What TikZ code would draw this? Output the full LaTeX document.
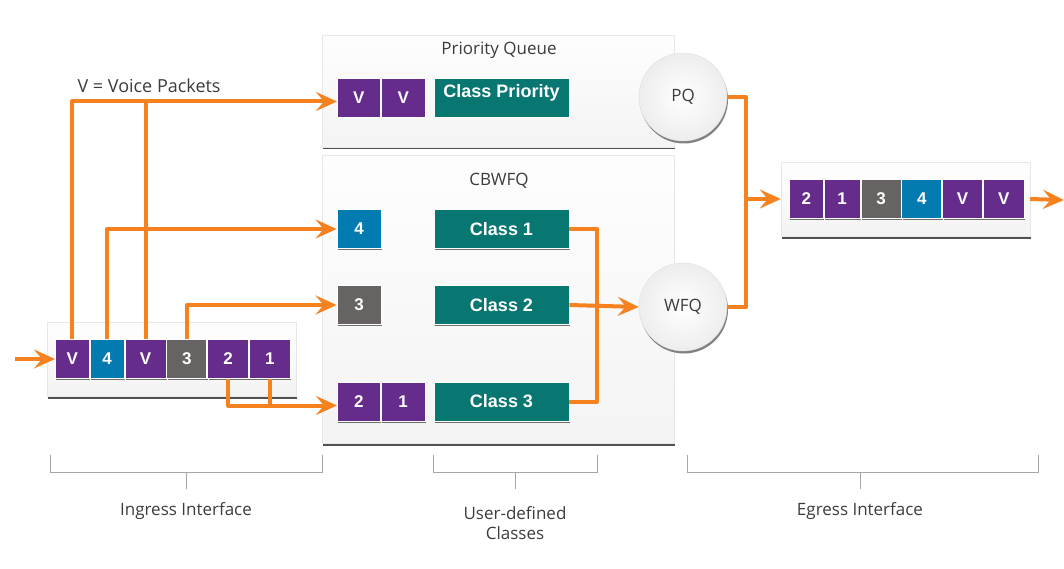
\documentclass[tikz,border=0pt]{standalone}
\usepackage{fontspec}
\setmainfont{Open Sans}
\newfontfamily\boxfont{Liberation Sans}
\usetikzlibrary{arrows.meta,positioning,shadows}
\definecolor{voice}{RGB}{101,44,139}
\definecolor{pblue}{RGB}{4,123,176}
\definecolor{pgray}{RGB}{103,99,99}
\definecolor{cteal}{RGB}{8,118,113}
\definecolor{flowc}{RGB}{246,130,31}
\definecolor{txt}{RGB}{60,60,60}

\begin{document}
\begin{tikzpicture}[x=1pt,y=-1pt,
    panel/.style={draw=gray!18, line width=0.4pt, top color=gray!1, bottom color=gray!9,
      inner sep=0pt, drop shadow={shadow xshift=1pt,shadow yshift=-2.5pt,fill=black!80,opacity=0.85}},
    packet/.style={draw=white, line width=0.8pt, text=white, inner sep=0pt,
      font=\boxfont\bfseries\fontsize{17}{17}\selectfont, minimum height=39pt,
      drop shadow={shadow xshift=1pt,shadow yshift=-1.5pt,fill=black!70,opacity=0.8}},
    classbox/.style={packet, fill=cteal, minimum width=135pt, font=\boxfont\bfseries\fontsize{18}{18}\selectfont},
    sched/.style={circle, minimum size=88pt, inner sep=0pt, draw=gray!25, inner color=white, outer color=gray!14,
      text=txt, font=\fontsize{17}{17}\selectfont,
      drop shadow={shadow xshift=1pt,shadow yshift=-2.5pt,fill=black!70,opacity=0.7}},
    label/.style={text=txt, font=\fontsize{17}{17}\selectfont},
    line/.style={draw=flowc, line width=4pt, line join=round},
    flow/.style={line, -{Stealth[length=21pt,width=19pt,inset=8pt]}},
    bracket/.style={draw=gray!70, line width=0.8pt}]
  \useasboundingbox (0,0) rectangle (1064,569);

  %panels
  \node[panel, minimum width=249pt, minimum height=74pt] (ing) at (171.5,359) {};
  \node[panel, minimum width=352pt, minimum height=112pt] (pqp) at (498,91) {};
  \node[panel, minimum width=352pt, minimum height=288pt] (cbp) at (498,299) {};
  \node[panel, minimum width=249pt, minimum height=74pt] (egp) at (905.5,199) {};

  \node[label] at (499,50) {Priority Queue};
  \node[label] at (499,181) {CBWFQ};
  \node[label, font=\fontsize{18}{18}\selectfont, anchor=west] at (74,86) {V = Voice Packets};

  %ingress packets
  \node[packet, fill=voice, minimum width=34pt, anchor=west] (i1) at (55,359) {V};
  \node[packet, fill=pblue, minimum width=34pt, right=0pt of i1] (i2) {4};
  \node[packet, fill=voice, minimum width=41pt, right=0pt of i2] (i3) {V};
  \node[packet, fill=pgray, minimum width=40pt, right=0pt of i3] (i4) {3};
  \node[packet, fill=voice, minimum width=41pt, right=0pt of i4] (i5) {2};
  \node[packet, fill=voice, minimum width=41pt, right=0pt of i5] (i6) {1};

  %priority queue
  \node[packet, fill=voice, minimum width=43pt, anchor=west] (pv1) at (337,97.5) {V};
  \node[packet, fill=voice, minimum width=44pt, right=0pt of pv1] (pv2) {V};
  \node[classbox] (clp) at (501.5,97.5) {};
  \node[text=white, font=\boxfont\bfseries\fontsize{18}{18}\selectfont, below=3pt of clp.north] {Class Priority};

  %cbwfq
  \node[packet, fill=pblue, minimum width=44pt] (c4) at (359,229) {4};
  \node[packet, fill=pgray, minimum width=44pt] (c3) at (359,305) {3};
  \node[packet, fill=voice, minimum width=43pt, anchor=west] (c2) at (337,401.5) {2};
  \node[packet, fill=voice, minimum width=44pt, right=0pt of c2] (c1) {1};
  \node[classbox] (cl1) at (501.5,229) {Class 1};
  \node[classbox] (cl2) at (501.5,305) {Class 2};
  \node[classbox] (cl3) at (501.5,401.5) {Class 3};

  %schedulers
  \node[sched] (pq) at (683,97) {PQ};
  \node[sched] (wfq) at (683,307) {WFQ};

  %egress packets
  \node[packet, fill=voice, minimum width=34pt, anchor=west] (e1) at (789,199) {2};
  \node[packet, fill=voice, minimum width=36pt, right=0pt of e1] (e2) {1};
  \node[packet, fill=pgray, minimum width=40pt, right=0pt of e2] (e3) {3};
  \node[packet, fill=pblue, minimum width=40pt, right=0pt of e3] (e4) {4};
  \node[packet, fill=voice, minimum width=40pt, right=0pt of e4] (e5) {V};
  \node[packet, fill=voice, minimum width=41pt, right=0pt of e5] (e6) {V};

  %flows
  \coordinate (in) at (15,359);
  \coordinate (out) at (1064,200);
  \coordinate (vin) at ([yshift=-4pt]pv1.west);
  \coordinate (lowin) at ([yshift=-4pt]c2.west);
  \coordinate (merge) at ([xshift=19pt]pq.east |- egp.west);
  \draw[flow] (in) -- (i1.west);
  \draw[flow] (i1.north) |- (vin);
  \draw[line] (i3.north) -- (i3.north |- vin);
  \draw[flow] (i2.north) |- (c4.west);
  \draw[flow] (i4.north) |- (c3.west);
  \draw[flow] (i5.south) |- (lowin);
  \draw[line] (i6.south) -- (i6.south |- lowin);
  \draw[line] (cl1.east) -- ++(28,0) |- (cl3.east);
  \draw[flow] (cl2.east) -- (wfq.west);
  \draw[line] (pq.east) -- ++(19,0) |- (wfq.east);
  \draw[flow] (merge) -- (egp.west);
  \draw[flow] (egp.east) -- (out);

  %brackets
  \draw[bracket] (50,455) |- (322,472) -- (322,455);
  \draw[bracket] (186,472) -- (186,489);
  \node[label] at (186,511) {Ingress Interface};
  \draw[bracket] (433,455) |- (597,472) -- (597,455);
  \draw[bracket] (515,472) -- (515,489);
  \node[label, align=center] at (515,523) {User-defined\\[3pt]Classes};
  \draw[bracket] (687,455) |- (1038,472) -- (1038,455);
  \draw[bracket] (860,472) -- (860,489);
  \node[label] at (860,511) {Egress Interface};
\end{tikzpicture}
\end{document}
